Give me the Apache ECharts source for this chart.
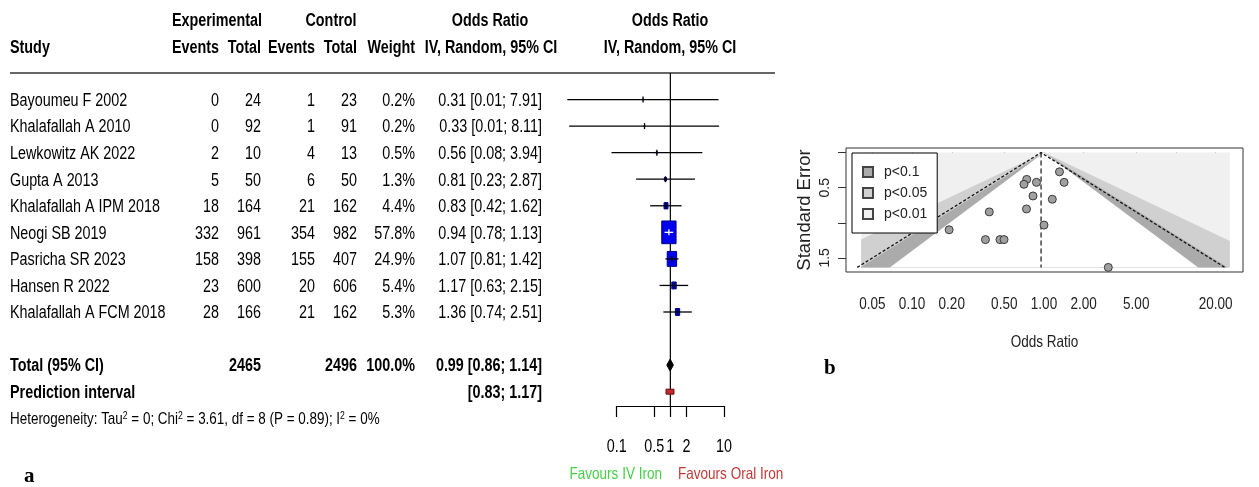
<!DOCTYPE html>
<html><head><meta charset="utf-8">
<script src="https://cdn.jsdelivr.net/npm/echarts@6/dist/echarts.min.js"></script>
<style>html,body{margin:0;padding:0;background:#fff}#c{width:1259px;height:487px}</style>
</head><body><div id="c"></div>
<script>
// ---------- data: forest plot ----------
const studies = ['Bayoumeu F 2002','Khalafallah A 2010','Lewkowitz AK 2022','Gupta A 2013','Khalafallah A IPM 2018','Neogi SB 2019','Pasricha SR 2023','Hansen R 2022','Khalafallah A FCM 2018'];
const expEvents = [0, 0, 2, 5, 18, 332, 158, 23, 28];
const expTotal = [24, 92, 10, 50, 164, 961, 398, 600, 166];
const ctrlEvents = [1, 1, 4, 6, 21, 354, 155, 20, 21];
const ctrlTotal = [23, 91, 13, 50, 162, 982, 407, 606, 162];
const weights = [0.2, 0.2, 0.5, 1.3, 4.4, 57.8, 24.9, 5.4, 5.3];
const orEst = [0.31, 0.33, 0.56, 0.81, 0.83, 0.94, 1.07, 1.17, 1.36];
const orLower = [0.012, 0.013, 0.08, 0.23, 0.42, 0.78, 0.81, 0.63, 0.74];
const orUpper = [7.91, 8.11, 3.94, 2.87, 1.62, 1.13, 1.42, 2.15, 2.51];
const pooledOR = [0.99, 0.86, 1.14];        // estimate, lower, upper
const predictionInterval = [0.83, 1.17];
const heterogeneity = { tau2: '0', chi2: '3.61', df: '8', p: '0.89', i2: '0%' };
const forestTicks = [0.1, 0.5, 1, 2, 10];
const forestTickLabels = ['0.1', '0.5', '1', '2', '10'];

// ---------- data: funnel plot ----------
const funnelOR = [0.74, 0.705, 0.877, 0.825, 0.737, 0.385, 1.00, 0.191, 0.36, 0.464, 0.498, 1.31, 1.42, 1.156, 3.07];
const funnelSE = [0.382, 0.452, 0.424, 0.618, 0.803, 0.845, 1.033, 1.10, 1.24, 1.24, 1.24, 0.274, 0.424, 0.665, 1.636];
const funnelPooled = 0.95;
const funnelTicks = [0.05, 0.1, 0.2, 0.5, 1, 2, 5, 10, 20];
const funnelTickLabels = [0.05, 0.1, 0.2, 0.5, 1, 2, 5, 20];
const funnelAxisRange = [0.0316, 32.2];
const shadeRange = [0.0411, 25.6];
const seTicks = [0, 0.5, 1, 1.5];
const seTickLabels = [0.5, 1.5];
const contourLevels = [
  { name: 'p<0.01', z: null, color: '#F0F0F0' },
  { name: 'p<0.05', z: 2.576, color: '#D0D0D0' },
  { name: 'p<0.1', z: 1.96, color: '#ABABAB' },
  { name: 'inner', z: 1.645, color: '#FFFFFF' }
];

// ---------- helpers ----------
const REG = '"Liberation Sans",Arial,sans-serif';
const FS = 17.5, SX = 0.82;
const COLS = { study: 10, expE: 219, expT: 261, ctlE: 315, ctlT: 357, wt: 415, or: 542 };
const B = { bold: true };
function cell(text, x, align, opt) { return Object.assign({ text: String(text), x: x, align: align }, opt || {}); }
function fmtCI(e, l, u) { return e.toFixed(2) + ' [' + l.toFixed(2) + '; ' + u.toFixed(2) + ']'; }
const sum = a => a.reduce((s, v) => s + v, 0);
function narrowText(text, x, y, size, opt) {
  opt = opt || {};
  return { type: 'text', x: x, y: y, scaleX: SX, style: { text: text, x: 0, y: 0, align: opt.align || 'center', verticalAlign: 'middle',
    fontSize: size, fontFamily: REG, fontWeight: opt.bold ? 'bold' : 'normal', fill: opt.color || '#000' } };
}

const tableRows = [];
tableRows.push({ row: -3, cells: [cell('Experimental', 217, 'center', B), cell('Control', 331, 'center', B), cell('Odds Ratio', 490, 'center', B), cell('Odds Ratio', 670, 'center', B)] });
tableRows.push({ row: -2, cells: [cell('Study', COLS.study, 'left', B), cell('Events', COLS.expE, 'right', B), cell('Total', COLS.expT, 'right', B), cell('Events', COLS.ctlE, 'right', B), cell('Total', COLS.ctlT, 'right', B), cell('Weight', COLS.wt, 'right', B), cell('IV, Random, 95% CI', 491, 'center', B), cell('IV, Random, 95% CI', 670, 'center', B)] });
studies.forEach((s, i) => tableRows.push({ row: i, cells: [
  cell(s, COLS.study, 'left'), cell(expEvents[i], COLS.expE, 'right'), cell(expTotal[i], COLS.expT, 'right'),
  cell(ctrlEvents[i], COLS.ctlE, 'right'), cell(ctrlTotal[i], COLS.ctlT, 'right'),
  cell(weights[i].toFixed(1) + '%', COLS.wt, 'right'), cell(fmtCI(orEst[i], orLower[i], orUpper[i]), COLS.or, 'right')] }));
tableRows.push({ row: 10, cells: [cell('Total (95% CI)', COLS.study, 'left', B), cell(sum(expTotal), COLS.expT, 'right', B), cell(sum(ctrlTotal), COLS.ctlT, 'right', B), cell(sum(weights).toFixed(1) + '%', COLS.wt, 'right', B), cell(fmtCI(pooledOR[0], pooledOR[1], pooledOR[2]), COLS.or, 'right', B)] });
tableRows.push({ row: 11, cells: [cell('Prediction interval', COLS.study, 'left', B), cell('[' + predictionInterval[0].toFixed(2) + '; ' + predictionInterval[1].toFixed(2) + ']', COLS.or, 'right', B)] });
tableRows.push({ row: 12, cells: [{ rich: true, x: COLS.study, align: 'left',
  text: '{n|Heterogeneity: Tau}{s|2}{n| = ' + heterogeneity.tau2 + '; Chi}{s|2}{n| = ' + heterogeneity.chi2 + ', df = ' + heterogeneity.df + ' (P = ' + heterogeneity.p + '); I}{s|2}{n| = ' + heterogeneity.i2 + '}' }] });
tableRows.push({ row: 14.05, cells: [cell('Favours IV Iron', 662, 'right', { color: '#46D046', size: 16.5 }), cell('Favours Oral Iron', 678, 'left', { color: '#C23A36', size: 16.5 })] });

const maxW = Math.max.apply(null, weights);
const SQ_H = 22.7, SQ_RATIO = 0.63;
const seMax = Math.max.apply(null, funnelSE);
const sePad = seMax * 0.04;

function contourPoly(z) {
  const xlo = shadeRange[0], xhi = shadeRange[1], sm = seMax;
  if (z === null) return [[xlo, 0], [xhi, 0], [xhi, sm], [xlo, sm]];
  const pts = [[1, 0]];
  const rEnd = Math.exp(z * sm);
  if (rEnd > xhi) { pts.push([xhi, Math.log(xhi) / z], [xhi, sm]); } else pts.push([rEnd, sm]);
  const lEnd = Math.exp(-z * sm);
  if (lEnd < xlo) { pts.push([xlo, sm], [xlo, -Math.log(xlo) / z]); } else pts.push([lEnd, sm]);
  return pts;
}

const chart = echarts.init(document.getElementById('c'), null, { renderer: 'canvas' });

const series = [];
// table text (Arial-Narrow-like: Liberation Sans compressed horizontally)
series.push({
  type: 'custom', xAxisIndex: 0, yAxisIndex: 0, clip: false, silent: true, z: 5,
  data: tableRows.map(r => [1, r.row]),
  encode: { x: 0, y: 1 },
  renderItem: function (params, api) {
    const r = tableRows[params.dataIndex];
    const y = api.coord([1, api.value(1)])[1] + 1.5;
    return { type: 'group', children: r.cells.map(c => {
      if (c.rich) {
        return { type: 'text', x: c.x, y: y, scaleX: SX, style: { text: c.text, x: 0, y: 0, align: c.align, verticalAlign: 'middle',
          rich: { n: { fontSize: 16.4, fontFamily: REG, fill: '#000', lineHeight: 18 }, s: { fontSize: 10.5, fontFamily: REG, fill: '#000', verticalAlign: 'top', lineHeight: 18 } } } };
      }
      return narrowText(c.text, c.x, y, c.size || FS, { align: c.align, bold: c.bold, color: c.color });
    }) };
  }
});
// forest axis tick labels (positions from the log axis)
series.push({
  type: 'custom', xAxisIndex: 0, yAxisIndex: 0, clip: false, silent: true, z: 5,
  data: forestTicks.map(t => [t, 0]), encode: { x: 0, y: 1 },
  renderItem: function (params, api) {
    const x = api.coord([api.value(0), 0])[0];
    const y = params.coordSys.y + params.coordSys.height + 41;
    return narrowText(forestTickLabels[params.dataIndex], x, y, 17.5);
  }
});
// reference vertical line at OR = 1
series.push({ type: 'line', xAxisIndex: 0, yAxisIndex: 0, data: [[1, -1], [1, 11.54]], symbol: 'none', silent: true, z: 2,
  lineStyle: { color: '#000', width: 1.2 } });
// study squares + CIs
series.push({
  type: 'custom', xAxisIndex: 0, yAxisIndex: 0, clip: false, silent: true, z: 4,
  data: studies.map((s, i) => [orEst[i], i, orLower[i], orUpper[i], weights[i]]),
  encode: { x: 0, y: 1 },
  renderItem: function (params, api) {
    const row = api.value(1);
    const c = api.coord([api.value(0), row]);
    const l = api.coord([api.value(2), row]);
    const h = api.coord([api.value(3), row]);
    const hh = SQ_H * Math.sqrt(api.value(4) / maxW), ww = hh * SQ_RATIO;
    const inside = l[0] >= c[0] - ww / 2 && h[0] <= c[0] + ww / 2;
    const col = inside ? '#fff' : '#000';
    return { type: 'group', children: [
      { type: 'line', shape: { x1: l[0], y1: c[1], x2: h[0], y2: c[1] }, style: { stroke: '#000', lineWidth: 1.3 } },
      { type: 'rect', shape: { x: c[0] - ww / 2, y: c[1] - hh / 2, width: ww, height: hh }, style: { fill: '#0000F0', stroke: '#000080', lineWidth: 1 } },
      { type: 'line', shape: { x1: Math.max(l[0], c[0] - ww / 2), y1: c[1], x2: Math.min(h[0], c[0] + ww / 2), y2: c[1] }, style: { stroke: col, lineWidth: 1.3 } },
      { type: 'line', shape: { x1: c[0], y1: c[1] - 3, x2: c[0], y2: c[1] + 3 }, style: { stroke: col, lineWidth: 1.3 } }
    ] };
  }
});
// pooled diamond
series.push({
  type: 'custom', xAxisIndex: 0, yAxisIndex: 0, clip: false, silent: true, z: 4,
  data: [[pooledOR[0], 10, pooledOR[1], pooledOR[2]]], encode: { x: 0, y: 1 },
  renderItem: function (params, api) {
    const row = api.value(1);
    const c = api.coord([api.value(0), row]), l = api.coord([api.value(2), row]), h = api.coord([api.value(3), row]);
    return { type: 'polygon', shape: { points: [[l[0], c[1]], [c[0], c[1] - 6], [h[0], c[1]], [c[0], c[1] + 6]] }, style: { fill: '#000', stroke: '#000', lineWidth: 1 } };
  }
});
// prediction interval
series.push({
  type: 'custom', xAxisIndex: 0, yAxisIndex: 0, clip: false, silent: true, z: 4,
  data: [[predictionInterval[0], 11, predictionInterval[1]]], encode: { x: 0, y: 1 },
  renderItem: function (params, api) {
    const row = api.value(1);
    const l = api.coord([api.value(0), row]), h = api.coord([api.value(2), row]);
    return { type: 'rect', shape: { x: l[0], y: l[1] - 2.5, width: h[0] - l[0], height: 5 }, style: { fill: '#C0282A', stroke: '#6A1010', lineWidth: 1 } };
  }
});
// funnel contours
contourLevels.forEach(lv => {
  series.push({
    type: 'custom', name: lv.name, xAxisIndex: 1, yAxisIndex: 1, clip: true, silent: true, z: 1,
    itemStyle: { color: lv.color, borderColor: '#444', borderWidth: 1 },
    data: [[1, 0]], encode: { x: 0, y: 1 },
    renderItem: function (params, api) {
      const pts = contourPoly(lv.z).map(p => api.coord(p));
      return { type: 'polygon', shape: { points: pts }, style: { fill: lv.color, stroke: null } };
    }
  });
});
// pseudo 95% CI dotted lines
series.push({ type: 'line', xAxisIndex: 1, yAxisIndex: 1, symbol: 'none', silent: true, z: 3,
  data: [[funnelPooled * Math.exp(-1.96 * seMax), seMax], [funnelPooled, 0], [funnelPooled * Math.exp(1.96 * seMax), seMax]],
  lineStyle: { color: '#111', width: 1.3, type: [3, 2] } });
series.push({ type: 'line', xAxisIndex: 1, yAxisIndex: 1, symbol: 'none', silent: true, z: 3,
  data: [[funnelPooled, 0], [funnelPooled, seMax]],
  lineStyle: { color: '#111', width: 1.2, type: [5, 3] } });
series.push({ type: 'scatter', xAxisIndex: 1, yAxisIndex: 1, silent: true, z: 4,
  data: funnelOR.map((v, i) => [v, funnelSE[i]]), symbolSize: 8,
  itemStyle: { color: '#A0A0A0', borderColor: '#3a3a3a', borderWidth: 1, opacity: 1 } });
// funnel x tick labels + axis title
series.push({
  type: 'custom', xAxisIndex: 1, yAxisIndex: 1, clip: false, silent: true, z: 5,
  data: funnelTickLabels.map(t => [t, 0]), encode: { x: 0, y: 1 },
  renderItem: function (params, api) {
    const x = api.coord([api.value(0), 0])[0];
    const y = params.coordSys.y + params.coordSys.height + 32;
    const children = [narrowText(api.value(0).toFixed(2), x, y, 16.5, { color: '#222' })];
    if (params.dataIndex === 0) {
      children.push(narrowText('Odds Ratio', params.coordSys.x + params.coordSys.width / 2, params.coordSys.y + params.coordSys.height + 70, 16.5, { color: '#222' }));
    }
    return { type: 'group', children: children };
  }
});

const option = {
  animation: false,
  backgroundColor: '#fff',
  grid: [
    { left: 616.7, width: 107.3, top: 73, height: 333, show: false },
    { left: 846, width: 397, top: 148, height: 124, show: true, borderColor: '#333', borderWidth: 1, backgroundColor: 'transparent' }
  ],
  xAxis: [
    { gridIndex: 0, type: 'log', logBase: 10, min: 0.1, max: 10,
      axisLine: { show: true, onZero: false, lineStyle: { color: '#000', width: 1.2 } },
      axisTick: { show: true, customValues: forestTicks, length: 11, inside: false, lineStyle: { color: '#000', width: 1.2 } },
      axisLabel: { show: false },
      splitLine: { show: false } },
    { gridIndex: 1, type: 'log', logBase: 10, min: funnelAxisRange[0], max: funnelAxisRange[1],
      axisLine: { show: false },
      axisTick: { show: true, customValues: funnelTicks, length: 9, inside: false, lineStyle: { color: '#333', width: 1 } },
      axisLabel: { show: false },
      splitLine: { show: false } }
  ],
  yAxis: [
    { gridIndex: 0, type: 'value', inverse: true, min: -1, max: 11.54, show: false },
    { gridIndex: 1, type: 'value', inverse: true, min: -sePad, max: seMax + sePad,
      name: 'Standard Error', nameLocation: 'middle', nameGap: 32, nameRotate: 90, nameTextStyle: { fontSize: 18.5, fontFamily: REG, color: '#222' },
      axisLine: { show: false },
      axisTick: { show: true, customValues: seTicks, length: 8, inside: false, lineStyle: { color: '#333', width: 1 } },
      axisLabel: { show: true, customValues: seTickLabels, rotate: 90, margin: 14, fontSize: 14, fontFamily: REG, color: '#222',
        formatter: v => v.toFixed(1) },
      splitLine: { show: false } }
  ],
  legend: {
    data: ['p<0.1', 'p<0.05', 'p<0.01'], orient: 'vertical', left: 852, top: 153,
    backgroundColor: '#fff', borderColor: '#000', borderWidth: 1, borderRadius: 0,
    padding: [12, 10, 12, 10], itemGap: 7, itemWidth: 10, itemHeight: 10, icon: 'rect',
    textStyle: { fontSize: 14, fontFamily: REG, color: '#222', padding: [0, 0, 0, 6] },
    selectedMode: false, z: 10
  },
  graphic: [
    { type: 'line', shape: { x1: 10, y1: 73, x2: 775, y2: 73 }, style: { stroke: '#333', lineWidth: 1.6 }, silent: true },
    { type: 'text', left: 24, top: 466, style: { text: 'a', font: 'bold 21px "Liberation Serif", serif', fill: '#000' } },
    { type: 'text', left: 824, top: 358, style: { text: 'b', font: 'bold 21px "Liberation Serif", serif', fill: '#000' } }
  ],
  series: series
};
chart.setOption(option);
</script>
</body></html>
